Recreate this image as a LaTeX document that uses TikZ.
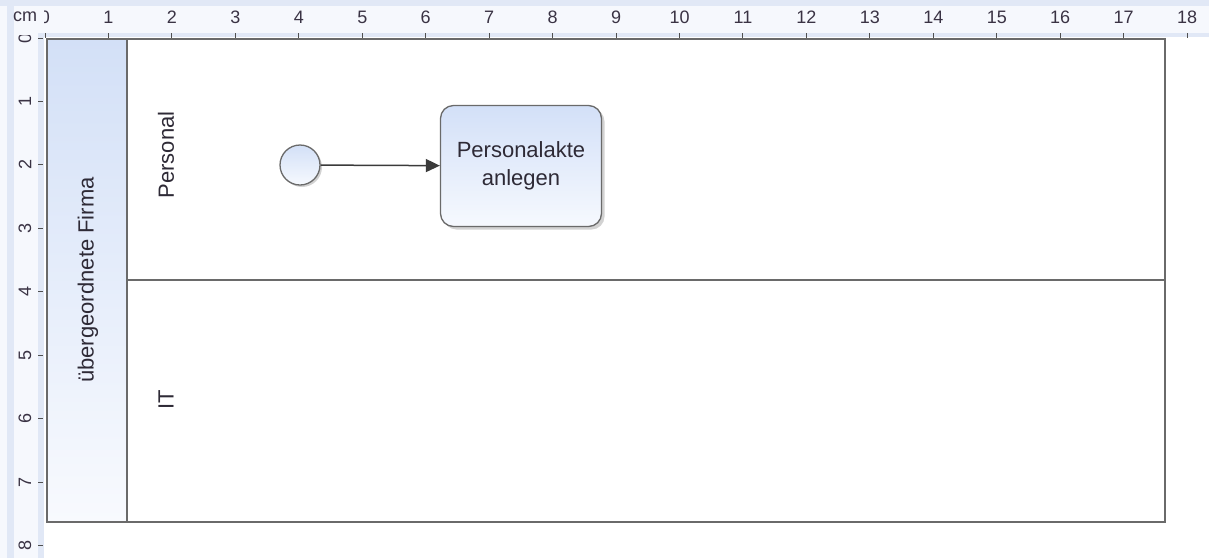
\documentclass[tikz,border=0pt]{standalone}
\usepackage{fontspec}
\setmainfont{Liberation Sans}
\usetikzlibrary{shadows,arrows.meta}
\definecolor{rulerbg}{HTML}{F6F8FD}
\definecolor{rulerband}{HTML}{E1E8F6}
\definecolor{tickcol}{HTML}{505050}
\definecolor{numcol}{HTML}{3A3344}
\definecolor{poolcol}{HTML}{6A6A6A}
\definecolor{hdrtop}{HTML}{D3E0F7}
\definecolor{hdrbot}{HTML}{F8FAFE}
\definecolor{tasktop}{HTML}{D3E0F8}
\definecolor{taskbot}{HTML}{F6F9FE}
\definecolor{txtcol}{HTML}{2E2A36}
\definecolor{flowcol}{HTML}{3A3A3A}
\tikzset{
  rulernum/.style={font=\fontsize{18}{20}\selectfont, text=numcol, inner sep=0pt},
  tickline/.style={draw=tickcol, line width=1pt},
  poolbox/.style={draw=poolcol, line width=1.5pt, inner sep=0pt, anchor=north west},
  lanelabel/.style={font=\fontsize{22}{26}\selectfont, text=txtcol, rotate=90, inner sep=0pt},
  startev/.style={circle, draw=poolcol, line width=1.3pt, minimum size=40pt, inner sep=0pt,
    top color=hdrtop, bottom color=taskbot,
    drop shadow={shadow xshift=2pt, shadow yshift=-2pt, opacity=0.35, fill=black!50}},
  taskbox/.style={draw=poolcol, line width=1.3pt, rounded corners=13pt, minimum width=161pt,
    minimum height=121pt, align=center, inner sep=0pt,
    font=\fontsize{22}{28}\selectfont, text=txtcol,
    top color=tasktop, bottom color=taskbot,
    drop shadow={shadow xshift=3pt, shadow yshift=-3pt, opacity=0.35, fill=black!50}},
  flowline/.style={draw=flowcol, line width=1.5pt, -{Triangle[length=14pt,width=13pt]}}
}
\begin{document}
\begin{tikzpicture}[x=1pt,y=-1pt]
\useasboundingbox (0,0) rectangle (1209,558);
\fill[white] (0,0) rectangle (1209,558);
% rulers
\fill[rulerbg] (0,0) rectangle (1209,37);
\fill[rulerbg] (0,0) rectangle (44,558);
\fill[rulerband] (0,0) rectangle (1209,6);
\fill[rulerband] (7,0) rectangle (14,558);
\fill[rulerband] (38,33) rectangle (1209,37);
\fill[rulerband] (38,33) rectangle (44,558);
\node[rulernum] (cm) at (25,17) {cm};
\foreach \i in {0,...,18}{
  \coordinate (ta\i) at ({45+63.45*\i},33);
  \coordinate (tb\i) at ({45+63.45*\i},38);
  \draw[tickline] (ta\i) -- (tb\i);
}
\foreach \i in {1,...,18}{
  \node[rulernum] (tn\i) at ({45+63.45*\i},17) {\i};
}
\begin{scope}
  \clip (44,0) rectangle (60,37);
  \node[rulernum] (tn0) at (45,17) {0};
\end{scope}
\foreach \i in {0,...,8}{
  \coordinate (la\i) at (38,{38+63.45*\i});
  \coordinate (lb\i) at (43,{38+63.45*\i});
  \draw[tickline] (la\i) -- (lb\i);
}
\foreach \i in {1,...,8}{
  \node[rulernum, rotate=90] (ln\i) at (25,{38+63.45*\i}) {\i};
}
\begin{scope}
  \clip (14,35) rectangle (38,50);
  \node[rulernum, rotate=90] (ln0) at (25,38) {0};
\end{scope}
% pool
\node[poolbox, top color=hdrtop, bottom color=hdrbot, minimum width=80pt, minimum height=483pt] (poolhdr) at (46,38) {};
\node[poolbox, minimum width=1038pt, minimum height=483pt] (pool) at (126,38) {};
\coordinate (divl) at (126,280);
\coordinate (divr) at (1164,280);
\draw[draw=poolcol, line width=1.5pt] (divl) -- (divr);
\node[lanelabel] (firma) at (88,280) {übergeordnete Firma};
\node[lanelabel] (personal) at (166,155) {Personal};
\node[lanelabel] (it) at (166,400) {IT};
% process
\node[startev] (start) at (300,165) {};
\node[taskbox] (task) at (521,166) {Personalakte\\anlegen};
\draw[flowline] (start) -- (task);
\end{tikzpicture}
\end{document}
